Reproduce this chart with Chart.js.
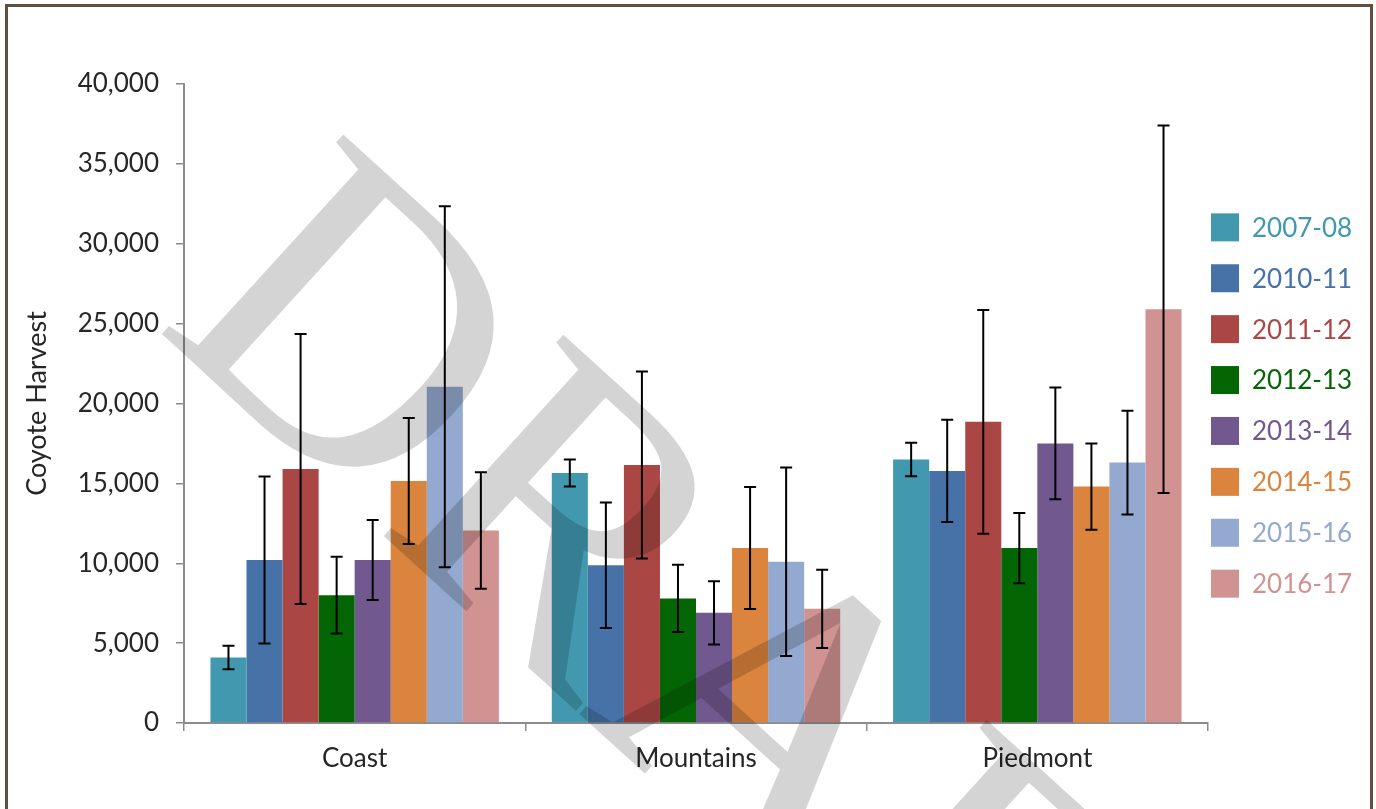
<!DOCTYPE html>
<html>
<head>
<meta charset="utf-8">
<script src="https://cdn.jsdelivr.net/npm/chart.js@4.4.0/dist/chart.umd.min.js"></script>
<style>
  html, body { margin: 0; padding: 0; background: #fff; }
</style>
</head>
<body>
<canvas id="myCanvas" width="1376" height="809"></canvas>
<script>
// categories and series
const regions = ['Coast', 'Mountains', 'Piedmont'];
const seasons = ['2007-08', '2010-11', '2011-12', '2012-13', '2013-14', '2014-15', '2015-16', '2016-17'];
const seasonColors = ['#4198af', '#4672a8', '#aa4644', '#046504', '#71588f', '#db843d', '#93a9cf', '#d19392'];

// harvest estimates, one array per season: [Coast, Mountains, Piedmont]
const harvest0708 = [4100, 15650, 16500];
const harvest1011 = [10200, 9870, 15780];
const harvest1112 = [15900, 16150, 18850];
const harvest1213 = [8000, 7800, 10950];
const harvest1314 = [10200, 6900, 17500];
const harvest1415 = [15150, 10950, 14800];
const harvest1516 = [21050, 10100, 16300];
const harvest1617 = [12050, 7150, 25900];

// error bar half widths (+/-)
const err0708 = [740, 850, 1050];
const err1011 = [5230, 3930, 3200];
const err1112 = [8450, 5850, 7000];
const err1213 = [2400, 2100, 2200];
const err1314 = [2500, 1980, 3500];
const err1415 = [3950, 3820, 2700];
const err1516 = [11300, 5900, 3250];
const err1617 = [3650, 2450, 11500];

const yMin = 0, yMax = 40000, yStep = 5000;

const allHarvest = [harvest0708, harvest1011, harvest1112, harvest1213, harvest1314, harvest1415, harvest1516, harvest1617];
const allErr = [err0708, err1011, err1112, err1213, err1314, err1415, err1516, err1617];

const textColor = '#262626';
const axisColor = '#8c8c8c';

const datasets = seasons.map((s, i) => ({
  label: s,
  data: allHarvest[i],
  errors: allErr[i],
  backgroundColor: seasonColors[i],
  borderWidth: 0,
  categoryPercentage: 0.845,
  barPercentage: 1.0
}));

// outer brown frame
const framePlugin = {
  id: 'frame',
  beforeDraw(chart) {
    const ctx = chart.ctx;
    ctx.save();
    ctx.fillStyle = '#fff';
    ctx.fillRect(0, 0, chart.width, chart.height);
    ctx.strokeStyle = '#604e3e';
    ctx.lineWidth = 3;
    ctx.beginPath();
    ctx.moveTo(6.5, 820);
    ctx.lineTo(6.5, 5.5);
    ctx.lineTo(1371.5, 5.5);
    ctx.lineTo(1371.5, 820);
    ctx.stroke();
    ctx.restore();
  }
};

// "DRAFT" watermark over the bars
const watermarkPlugin = {
  id: 'watermark',
  afterDatasetsDraw(chart) {
    const ctx = chart.ctx;
    ctx.save();
    ctx.translate(153, 326);
    ctx.rotate(42.3 * Math.PI / 180);
    ctx.font = '412px "Liberation Serif"';
    ctx.fillStyle = 'rgba(0,0,0,0.17)';
    ctx.textAlign = 'left';
    ctx.textBaseline = 'alphabetic';
    ctx.fillText('DRAFT', 0, 0);
    ctx.restore();
  }
};

// error bars from the errors arrays
const errorBarPlugin = {
  id: 'errorBars',
  afterDatasetsDraw(chart) {
    const ctx = chart.ctx;
    const yScale = chart.scales.y;
    ctx.save();
    ctx.strokeStyle = '#000';
    ctx.lineWidth = 2;
    chart.data.datasets.forEach((ds, i) => {
      const meta = chart.getDatasetMeta(i);
      meta.data.forEach((bar, j) => {
        const v = ds.data[j], e = ds.errors[j];
        const yTop = yScale.getPixelForValue(v + e);
        const yBot = yScale.getPixelForValue(v - e);
        ctx.beginPath();
        ctx.moveTo(bar.x, yTop); ctx.lineTo(bar.x, yBot);
        ctx.moveTo(bar.x - 6, yTop); ctx.lineTo(bar.x + 6, yTop);
        ctx.moveTo(bar.x - 6, yBot); ctx.lineTo(bar.x + 6, yBot);
        ctx.stroke();
      });
    });
    ctx.restore();
  }
};

// legend on the right, text coloured like its box
const sideLegendPlugin = {
  id: 'sideLegend',
  afterDraw(chart) {
    const ctx = chart.ctx;
    const area = chart.chartArea;
    const spacing = 50.9;
    const box = 28;
    const x0 = area.right + 3;
    const midY = (area.top + area.bottom) / 2 + 2;
    ctx.save();
    ctx.font = '26px Lato';
    ctx.textBaseline = 'middle';
    ctx.textAlign = 'left';
    chart.data.datasets.forEach((ds, i) => {
      const cy = midY + (i - (chart.data.datasets.length - 1) / 2) * spacing;
      ctx.fillStyle = ds.backgroundColor;
      ctx.fillRect(x0, cy - box / 2, box, box);
      ctx.fillText(ds.label, x0 + 41, cy + 1);
    });
    ctx.restore();
  }
};

new Chart(document.getElementById('myCanvas'), {
  type: 'bar',
  data: { labels: regions, datasets: datasets },
  options: {
    responsive: false,
    animation: false,
    devicePixelRatio: 1,
    layout: { padding: { top: 84, right: 168, bottom: 0, left: 0 } },
    plugins: {
      legend: { display: false },
      tooltip: { enabled: false }
    },
    scales: {
      x: {
        grid: { display: true, drawOnChartArea: false, tickLength: 8, color: axisColor, lineWidth: 1.5, offset: true },
        border: { color: axisColor, width: 2 },
        ticks: { color: textColor, font: { family: 'Lato', size: 26 }, padding: 12 },
        afterFit(scale) { scale.height = 86; }
      },
      y: {
        min: yMin,
        max: yMax,
        grid: { display: true, drawOnChartArea: false, tickLength: 8, color: axisColor, lineWidth: 1.5 },
        border: { color: axisColor, width: 2 },
        ticks: {
          stepSize: yStep,
          color: textColor,
          font: { family: 'Lato', size: 26 },
          padding: 17,
          callback: v => v.toLocaleString('en-US')
        },
        title: {
          display: true,
          text: 'Coyote Harvest',
          color: textColor,
          font: { family: 'Lato', size: 27 },
          padding: { top: 21, bottom: 0 }
        },
        afterFit(scale) { scale.width = 184; }
      }
    }
  },
  plugins: [framePlugin, watermarkPlugin, errorBarPlugin, sideLegendPlugin]
});
</script>
</body>
</html>
